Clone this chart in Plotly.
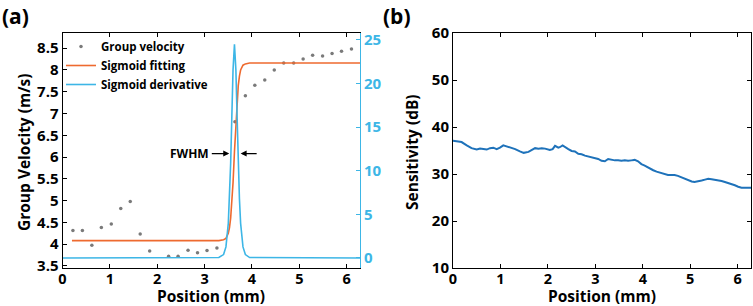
import plotly.graph_objects as go

# ---------------- data: panel (a) ----------------
gv_x = [0.22, 0.42, 0.62, 0.82, 1.03, 1.23, 1.43, 1.64, 1.84, 2.24, 2.44, 2.65, 2.85,
        3.05, 3.26, 3.64, 3.86, 4.06, 4.27, 4.47, 4.67, 4.88, 5.08, 5.28, 5.49, 5.69,
        5.89, 6.10]
gv_y = [4.31, 4.31, 3.97, 4.38, 4.46, 4.82, 4.98, 4.23, 3.84, 3.72, 3.72, 3.86, 3.80,
        3.85, 3.91, 6.81, 7.41, 7.65, 7.77, 8.00, 8.16, 8.16, 8.25, 8.34, 8.32, 8.38,
        8.43, 8.48]

sig_x = [0.2, 3.3, 3.4, 3.45, 3.5, 3.525, 3.55, 3.575, 3.6, 3.63, 3.66, 3.685, 3.71,
         3.735, 3.76, 3.81, 3.86, 3.95, 6.28]
sig_y = [4.08, 4.08, 4.10, 4.13, 4.25, 4.38, 4.60, 4.94, 5.41, 6.12, 6.83, 7.30, 7.64,
         7.86, 8.00, 8.11, 8.14, 8.16, 8.16]

der_x = [0.0, 3.3, 3.4, 3.45, 3.5, 3.525, 3.55, 3.575, 3.6, 3.63, 3.66, 3.685, 3.71,
         3.735, 3.76, 3.81, 3.86, 3.95, 6.28]
der_y = [0.0, 0.05, 0.39, 1.27, 3.97, 6.76, 10.9, 16.3, 21.6, 24.5, 21.6, 16.3, 10.9,
         6.76, 3.97, 1.27, 0.39, 0.05, 0.0]

# ---------------- data: panel (b) ----------------
sens_x = [0.0, 0.08, 0.18, 0.29, 0.39, 0.50, 0.57, 0.64, 0.71, 0.78, 0.85, 0.92, 0.99,
          1.06, 1.13, 1.20, 1.31, 1.41, 1.49, 1.59, 1.66, 1.73, 1.80, 1.87, 1.94, 2.04,
          2.10, 2.15, 2.22, 2.25, 2.31, 2.36, 2.43, 2.50, 2.57, 2.64, 2.71, 2.78, 2.85,
          2.92, 2.99, 3.06, 3.13, 3.20, 3.27, 3.34, 3.41, 3.48, 3.55, 3.62, 3.69, 3.76,
          3.83, 3.90, 3.97, 4.04, 4.11, 4.17, 4.22, 4.29, 4.39, 4.46, 4.53, 4.60, 4.67,
          4.74, 4.81, 4.88, 4.95, 5.03, 5.09, 5.16, 5.24, 5.31, 5.38, 5.45, 5.52, 5.59,
          5.66, 5.73, 5.80, 5.87, 5.94, 6.01, 6.08, 6.18, 6.28]
sens_y = [37.1, 36.9, 36.8, 36.1, 35.5, 35.2, 35.4, 35.3, 35.2, 35.5, 35.6, 35.3, 35.6,
          36.1, 35.9, 35.6, 35.3, 34.8, 34.5, 34.7, 35.1, 35.5, 35.4, 35.5, 35.4, 35.1,
          35.3, 36.0, 35.6, 35.7, 36.1, 35.7, 35.3, 34.9, 34.8, 34.3, 34.2, 33.9, 33.7,
          33.6, 33.4, 33.2, 32.8, 32.7, 33.2, 33.0, 32.9, 32.9, 32.8, 32.9, 32.8, 32.9,
          33.0, 32.7, 32.1, 31.8, 31.4, 31.0, 30.8, 30.5, 30.2, 30.0, 29.8, 29.8, 29.8,
          29.6, 29.3, 29.0, 28.8, 28.4, 28.3, 28.4, 28.6, 28.8, 29.0, 28.9, 28.8, 28.6,
          28.5, 28.3, 28.1, 27.8, 27.6, 27.3, 27.1, 27.1, 27.1]

# ---------------- tick labels ----------------
pos_ticks = [0, 1, 2, 3, 4, 5, 6]
gv_ticks = [3.5, 4, 4.5, 5, 5.5, 6, 6.5, 7, 7.5, 8, 8.5]
gv_tick_text = ["3.5", "4", "4.5", "5", "5.5", "6", "6.5", "7", "7.5", "8", "8.5"]
der_ticks = [0, 5, 10, 15, 20, 25]
sens_ticks = [10, 20, 30, 40, 50, 60]

ORANGE = "#EE6A2F"
LBLUE = "#3DB6E6"
DBLUE = "#1E72BA"
FONT = "Open Sans"
W, H = 753, 306

fig = go.Figure()
fig.add_trace(go.Scatter(x=gv_x, y=gv_y, mode="markers", name="Group velocity",
                         marker=dict(color="#7a7a7a", size=3.5), xaxis="x", yaxis="y"))
fig.add_trace(go.Scatter(x=sig_x, y=sig_y, mode="lines", name="Sigmoid fitting",
                         line=dict(color=ORANGE, width=1.6), xaxis="x", yaxis="y"))
fig.add_trace(go.Scatter(x=der_x, y=der_y, mode="lines", name="Sigmoid derivative",
                         line=dict(color=LBLUE, width=1.6), xaxis="x", yaxis="y2"))
fig.add_trace(go.Scatter(x=sens_x, y=sens_y, mode="lines", showlegend=False,
                         line=dict(color=DBLUE, width=2), xaxis="x3", yaxis="y3"))

tickfont = dict(family=FONT, size=15, color="black", weight="bold")
xtickfont = dict(family=FONT, size=14.5, color="black", weight="bold")
titlefont = dict(family=FONT, size=15.5, color="black", weight="bold")

axis_common = dict(showgrid=False, zeroline=False, showline=True, linecolor="black",
                   linewidth=1, ticks="inside", ticklen=4, tickcolor="black",
                   tickfont=tickfont, automargin=False)

xd_a = [62.5 / W, 360 / W]
xd_b = [453 / W, 751 / W]
yd = [1 - 268 / H, 1 - 33 / H]


def title_ann(text, xpx, ypx, angle=0):
    return dict(text=text, xref="paper", yref="paper", x=xpx / W, y=1 - ypx / H,
                xanchor="center", yanchor="middle", showarrow=False, textangle=angle,
                font=titlefont)


fig.update_layout(
    width=W, height=H,
    margin=dict(l=0, r=0, t=0, b=0, autoexpand=False),
    paper_bgcolor="white", plot_bgcolor="white",
    font=dict(family=FONT, color="black"),
    xaxis=dict(axis_common, domain=xd_a, range=[0, 6.28], tickvals=pos_ticks,
               mirror="ticks", anchor="y", tickfont=xtickfont, ticklabelstandoff=-2),
    yaxis=dict(axis_common, domain=yd, range=[3.45, 8.85], tickvals=gv_ticks,
               ticktext=gv_tick_text, anchor="x"),
    yaxis2=dict(axis_common, domain=yd, range=[-1.15, 25.8], tickvals=der_ticks,
                overlaying="y", side="right", anchor="x", linecolor=LBLUE,
                tickcolor=LBLUE, tickfont=dict(tickfont, color=LBLUE)),
    xaxis3=dict(axis_common, domain=xd_b, range=[0, 6.28], tickvals=pos_ticks,
                mirror="ticks", anchor="y3", tickfont=xtickfont, ticklabelstandoff=-2),
    yaxis3=dict(axis_common, domain=yd, range=[10, 60], tickvals=sens_ticks,
                mirror="ticks", anchor="x3"),
    legend=dict(x=0.081, y=1 - 32 / H, xref="paper", yref="paper", xanchor="left",
                yanchor="top", bgcolor="rgba(0,0,0,0)",
                font=dict(family=FONT, size=11.5, color="black", weight="bold"),
                itemwidth=30, tracegroupgap=0),
    annotations=[
        dict(text="(a)", xref="paper", yref="paper", x=0.0, y=1.0, xanchor="left",
             yanchor="top", showarrow=False,
             font=dict(family=FONT, size=21, color="black", weight="bold")),
        dict(text="(b)", xref="paper", yref="paper", x=381 / W, y=1.0,
             xanchor="left", yanchor="top", showarrow=False,
             font=dict(family=FONT, size=21, color="black", weight="bold")),
        title_ann("Position (mm)", 211, 295.5),
        title_ann("Position (mm)", 602, 295.5),
        title_ann("Group Velocity (m/s)", 24, 152, -90),
        title_ann("Sensitivity (dB)", 412, 152, -90),
        dict(text="FWHM", xref="x", yref="y", x=3.13, y=6.08, xanchor="right",
             yanchor="middle", showarrow=False,
             font=dict(family=FONT, size=12, color="black", weight="bold")),
        dict(text="", xref="x", yref="y", x=3.52, y=6.08, axref="x", ayref="y",
             ax=3.12, ay=6.08, showarrow=True, arrowhead=2, arrowsize=1,
             arrowwidth=1.2, arrowcolor="black"),
        dict(text="", xref="x", yref="y", x=3.76, y=6.08, axref="x", ayref="y",
             ax=4.13, ay=6.08, showarrow=True, arrowhead=2, arrowsize=1,
             arrowwidth=1.2, arrowcolor="black"),
    ],
)

fig.write_html("out.html", config={"displayModeBar": False},
               post_script="document.body.style.margin='0';"
                           "document.body.style.overflow='hidden';")
